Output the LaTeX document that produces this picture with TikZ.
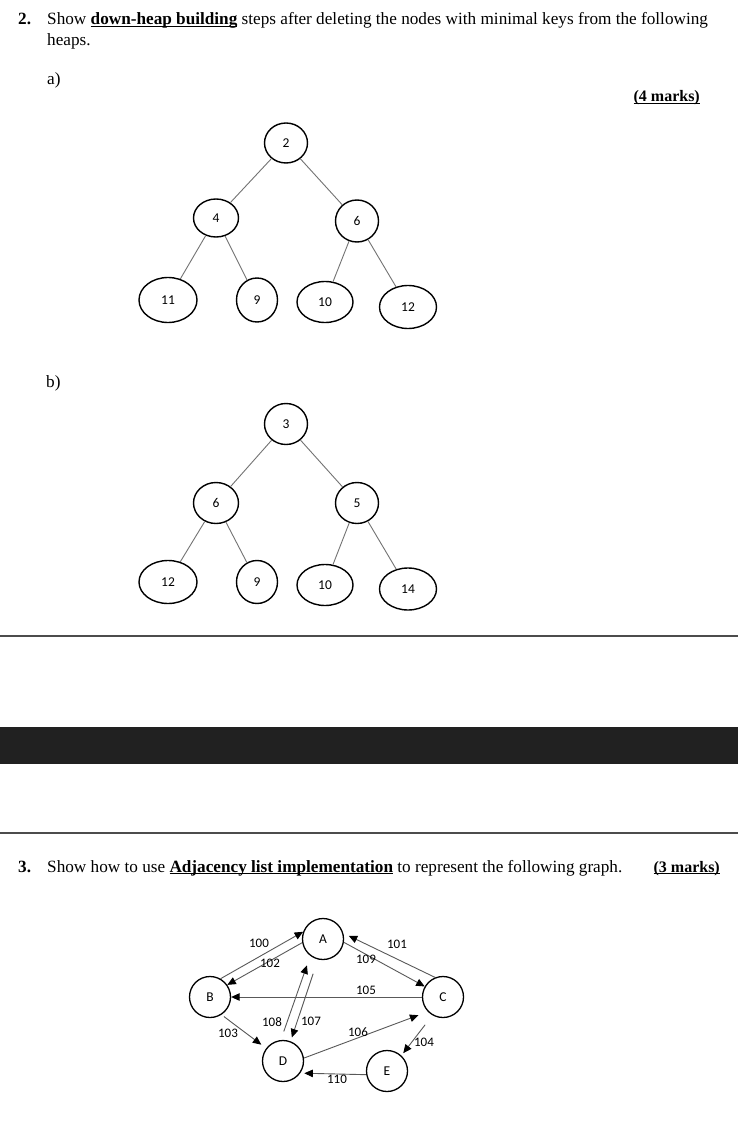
\documentclass[tikz,border=0pt]{standalone}
\usepackage{fontspec}
\setmainfont{Liberation Serif}
\newfontfamily\carl{Carlito}
\usetikzlibrary{arrows.meta,shapes.geometric}
\newcommand\myul[1]{\setbox0\hbox{#1}\rlap{\rule[-2.4pt]{\wd0}{1.3pt}}\box0}
\begin{document}
\begin{tikzpicture}[x=1pt,y=-1pt,
 hnode/.style={draw,ellipse,line width=1.4pt,inner sep=0pt,font=\carl\fontsize{13.5}{13.5}\selectfont},
 hedge/.style={draw=black!55,line width=0.9pt},
 gnode/.style={draw,circle,line width=1.3pt,minimum size=41pt,inner sep=0pt,font=\carl\fontsize{13.5}{13.5}\selectfont},
 garrow/.style={draw=black!65,line width=0.9pt,-{Triangle[length=8.5pt,width=7.5pt,color=black]}},
 glabel/.style={font=\carl\fontsize{13}{13}\selectfont,inner sep=0pt},
 txt/.style={font=\fontsize{17.2}{19}\selectfont,inner sep=0pt,anchor=base west},
 mtxt/.style={font=\fontsize{16}{19}\selectfont,inner sep=0pt,anchor=base east},
 rule/.style={draw=black!70,line width=1.6pt},
]
\useasboundingbox (0,0) rectangle (738,1131);
\fill[white] (0,0) rectangle (738,1131);
% header texts
\node (n2) [txt] at (18,25) {\textbf{2.}};
\node (q2) [txt] at (47,25) {Show \textbf{\myul{down-heap building}} steps after deleting the nodes with minimal keys from the following};
\node (q2b) [txt] at (47,46) {heaps.};
\node (pa) [txt] at (47,85) {a)};
\node (m4) [mtxt] at (700,102) {\textbf{\myul{(4 marks)}}};
\node (pb) [txt] at (46,387) {b)};
% heap a
\node (a2) [hnode,minimum width=43pt,minimum height=40pt] at (286,143) {2};
\node (a4) [hnode,minimum width=45pt,minimum height=38pt] at (216,218) {4};
\node (a6) [hnode,minimum width=43pt,minimum height=42pt] at (357,221) {6};
\node (a11) [hnode,minimum width=58pt,minimum height=45pt] at (168,300) {11};
\node (a9) [hnode,minimum width=41pt,minimum height=44pt] at (257,300) {9};
\node (a10) [hnode,minimum width=56pt,minimum height=41pt] at (325,302) {10};
\node (a12) [hnode,minimum width=57pt,minimum height=43pt] at (408,307) {12};
\draw[hedge] (a2) -- (a4);
\draw[hedge] (a2) -- (a6);
\draw[hedge] (a4) -- (a11);
\draw[hedge] (a4) -- (a9);
\draw[hedge] (a6) -- (a10);
\draw[hedge] (a6) -- (a12);
% heap b
\node (b3) [hnode,minimum width=43pt,minimum height=41pt] at (286,424) {3};
\node (b6) [hnode,minimum width=45pt,minimum height=41pt] at (216,503) {6};
\node (b5) [hnode,minimum width=43pt,minimum height=41pt] at (357,503) {5};
\node (b12) [hnode,minimum width=58pt,minimum height=43pt] at (168,582) {12};
\node (b9) [hnode,minimum width=41pt,minimum height=43pt] at (257,582) {9};
\node (b10) [hnode,minimum width=56pt,minimum height=41pt] at (325,585) {10};
\node (b14) [hnode,minimum width=57pt,minimum height=42pt] at (408,589) {14};
\draw[hedge] (b3) -- (b6);
\draw[hedge] (b3) -- (b5);
\draw[hedge] (b6) -- (b12);
\draw[hedge] (b6) -- (b9);
\draw[hedge] (b5) -- (b10);
\draw[hedge] (b5) -- (b14);
% separators
\draw[rule] (0,636) -- (738,636);
\fill[black!87] (0,727) rectangle (738,764);
\draw[rule] (0,833) -- (738,833);
% question 3
\node (n3) [txt] at (18,872) {\textbf{3.}};
\node (q3) [txt] at (47,872) {Show how to use \textbf{\myul{Adjacency list implementation}} to represent the following graph.};
\node (m3) [mtxt] at (720,872) {\textbf{\myul{(3 marks)}}};
% graph
\node (A) [gnode] at (323,939) {A};
\node (B) [gnode] at (210,997) {B};
\node (C) [gnode] at (443,997) {C};
\node (D) [gnode] at (283,1061) {D};
\node (E) [gnode] at (387,1071) {E};
\draw[garrow] (B.60) -- (A.160);
\draw[garrow] (A.190) -- (B.35);
\draw[garrow,shorten >=6pt] (C.112) -- (A.16);
\draw[garrow] (A.-9) -- (C.150);
\draw[garrow] (C.west) -- (B.east);
\draw[garrow,shorten <=9pt,shorten >=10pt] (D.96) -- (A.233);
\draw[garrow,shorten <=15pt,shorten >=4pt] (A.256) -- (D.69);
\draw[garrow,shorten <=3pt,shorten >=6pt] (B.-57) -- (D.143);
\draw[garrow,shorten >=10pt] (D.8) -- (C.224);
\draw[garrow,shorten <=12pt,shorten >=3pt] (C.240) -- (E.47);
\draw[garrow,shorten >=4pt] (E.190) -- (D.-35);
\node (l100) [glabel] at (259,943) {100};
\node (l102) [glabel] at (270,963) {102};
\node (l101) [glabel] at (397,944) {101};
\node (l109) [glabel] at (366,959) {109};
\node (l105) [glabel] at (366,990) {105};
\node (l108) [glabel] at (272,1022) {108};
\node (l107) [glabel] at (311,1021) {107};
\node (l103) [glabel] at (228,1033) {103};
\node (l106) [glabel] at (358,1032) {106};
\node (l104) [glabel] at (424,1042) {104};
\node (l110) [glabel] at (337,1079) {110};
\end{tikzpicture}
\end{document}
